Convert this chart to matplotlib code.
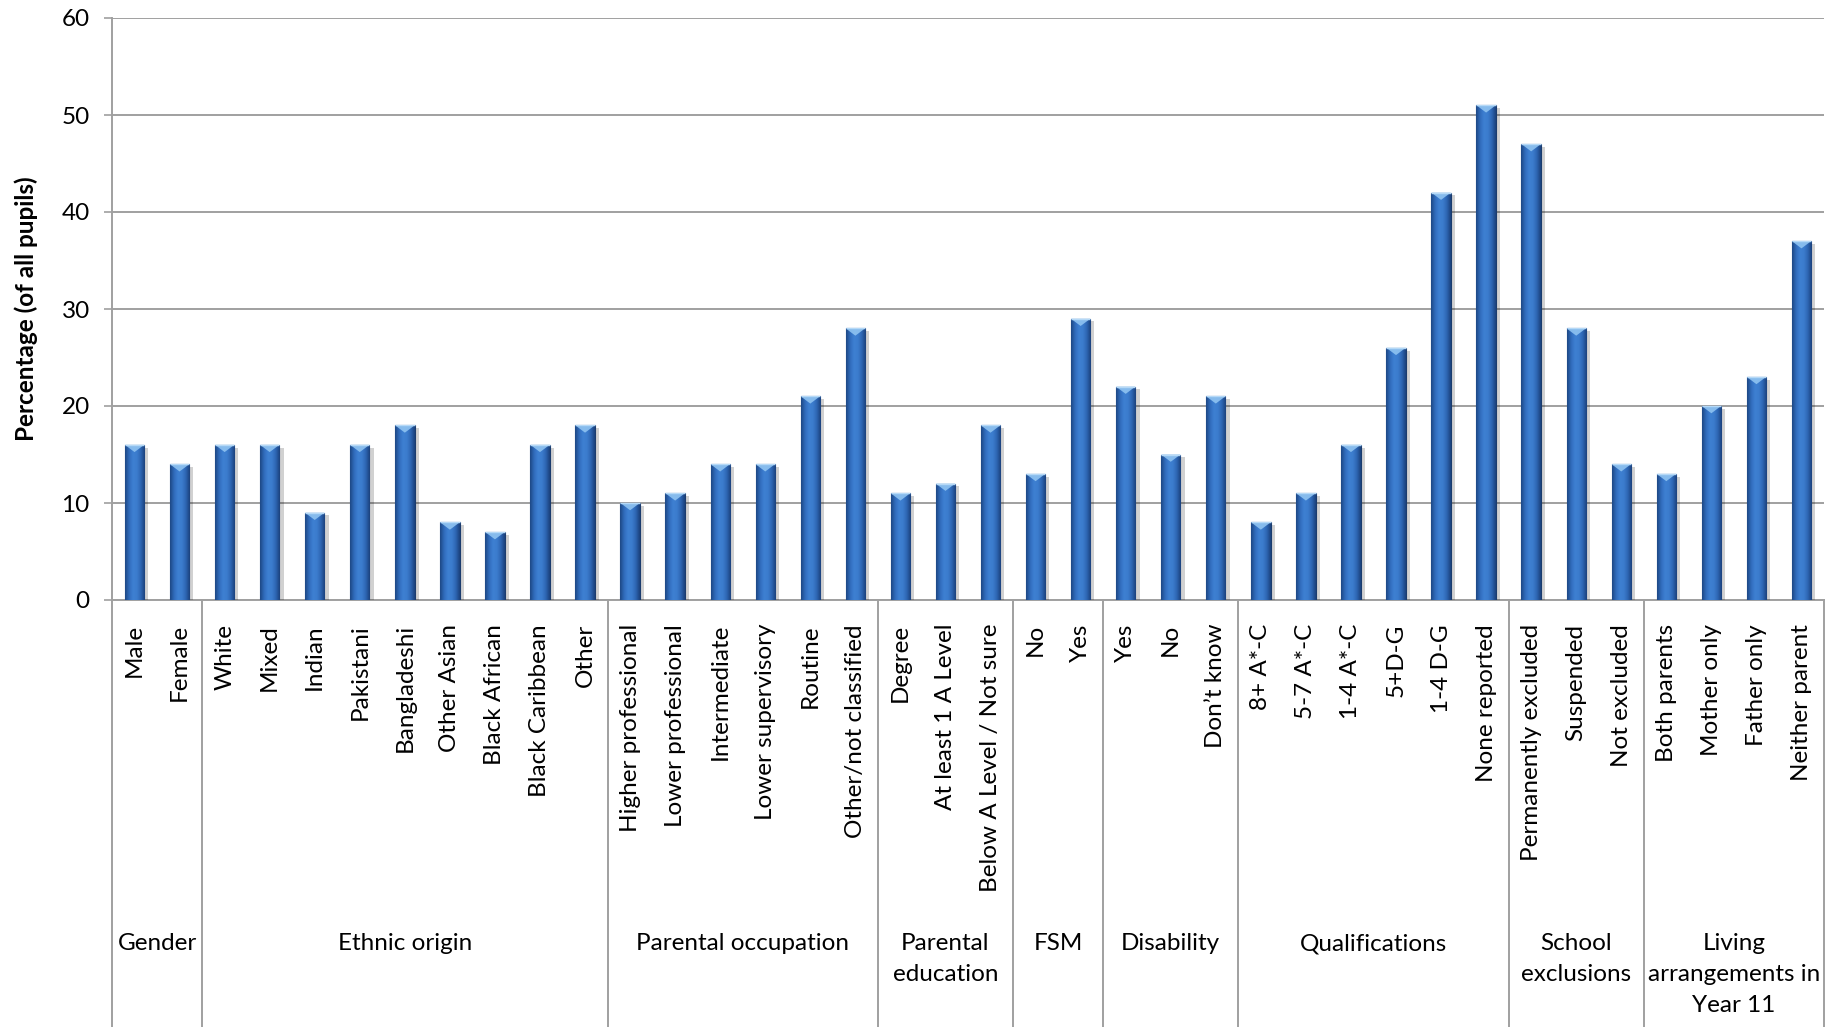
import numpy as np
import matplotlib
matplotlib.use("Agg")
import matplotlib.pyplot as plt
from matplotlib.colors import LinearSegmentedColormap
from matplotlib.patches import Polygon
from matplotlib import patheffects as pe
import matplotlib.transforms as mtransforms

plt.rcParams["font.family"] = ["Lato", "DejaVu Sans"]

# Category groups and the items within each
groups = ["Gender", "Ethnic origin", "Parental occupation", "Parental\neducation",
          "FSM", "Disability", "Qualifications", "School\nexclusions",
          "Living\narrangements in\nYear 11"]
group_sizes = [2, 9, 6, 3, 2, 3, 6, 3, 4]

categories = ["Male", "Female",
              "White", "Mixed", "Indian", "Pakistani", "Bangladeshi", "Other Asian",
              "Black African", "Black Caribbean", "Other",
              "Higher professional", "Lower professional", "Intermediate",
              "Lower supervisory", "Routine", "Other/not classified",
              "Degree", "At least 1 A Level", "Below A Level / Not sure",
              "No", "Yes",
              "Yes", "No", "Don\u2019t know",
              "8+ A*-C", "5-7 A*-C", "1-4 A*-C", "5+D-G", "1-4 D-G", "None reported",
              "Permanently excluded", "Suspended", "Not excluded",
              "Both parents", "Mother only", "Father only", "Neither parent"]

values = [16, 14,
          16, 16, 9, 16, 18, 8, 7, 16, 18,
          10, 11, 14, 14, 21, 28,
          11, 12, 18,
          13, 29,
          22, 15, 21,
          8, 11, 16, 26, 42, 51,
          47, 28, 14,
          13, 20, 23, 37]

yticks = [0, 10, 20, 30, 40, 50, 60]

W, H = 1839, 1027
fig = plt.figure(figsize=(W / 100, H / 100), dpi=100)
x0, x1 = 112, 1824
y0, y1 = 600, 18
ax = fig.add_axes([x0 / W, (H - y0) / H, (x1 - x0) / W, (y0 - y1) / H])

grid_c = "#a0a0a0"
fs = 17.5
n = len(values)
xs = np.arange(n)
bw = 0.43

bars = ax.bar(xs, values, width=bw, color="#2e66b3", edgecolor="#1b3c6e",
              linewidth=0.8, zorder=3)

# horizontal shading across each bar, dark at the sides and lighter in the middle
cmap = LinearSegmentedColormap.from_list(
    "bevel", ["#1d4784", "#306bbb", "#3e80d2", "#3c7ccd", "#2d66b3", "#1b417c"])
grad = np.linspace(0, 1, 64).reshape(1, -1)
for rect, v in zip(bars, values):
    rect.set_path_effects([pe.SimplePatchShadow(offset=(3, -2), shadow_rgbFace="#000000",
                                                alpha=0.18), pe.Normal()])
    xl = rect.get_x()
    im = ax.imshow(grad, cmap=cmap, extent=[xl, xl + bw, 0, v], aspect="auto",
                   zorder=3.5, interpolation="bicubic")
    im.set_clip_path(rect)
    # light chevron on the top face
    d = 0.75
    cap = Polygon([[xl, v], [xl + bw, v], [xl + bw / 2, v - d]], closed=True,
                  facecolor="#8fc3f1", edgecolor="none", alpha=0.9, zorder=4)
    ax.add_patch(cap)
    ax.plot([xl, xl + bw], [v, v], color="#b5d9f7", lw=1.0, zorder=4.2,
            solid_capstyle="butt")

ax.set_xlim(-0.5, n - 0.5)
ax.set_ylim(0, 60)
ax.set_yticks(yticks)
ax.yaxis.grid(True, color=grid_c, lw=1.4, zorder=0)
ax.set_axisbelow(True)
ax.tick_params(axis="y", length=6, width=1.2, color=grid_c, labelsize=fs, pad=10)
ax.set_xticks([])
for s in ["top", "right"]:
    ax.spines[s].set_visible(False)
ax.spines["left"].set_color(grid_c)
ax.spines["left"].set_linewidth(1.4)
ax.spines["bottom"].set_color(grid_c)
ax.spines["bottom"].set_linewidth(1.4)
ax.set_ylabel("Percentage (of all pupils)", fontsize=fs, fontweight="bold", va="center")
ax.yaxis.set_label_coords((26 - x0) / (x1 - x0), 0.5)

trans = mtransforms.blended_transform_factory(ax.transData, ax.transAxes)
bottom = -(H - y0) / (y0 - y1)

# item labels, rotated, hanging below the axis
for xi, lab in zip(xs, categories):
    ax.text(xi, -24 / (y0 - y1), lab, transform=trans, rotation=90, ha="center",
            va="top", fontsize=fs)

# group separators and group names
edges = np.concatenate([[0], np.cumsum(group_sizes)]) - 0.5
for e in edges:
    ax.plot([e, e], [0, bottom], transform=trans, color=grid_c, lw=1.4,
            clip_on=False, zorder=2)
for g, a, b in zip(groups, edges[:-1], edges[1:]):
    ax.text((a + b) / 2, -(933 - y0) / (y0 - y1), g, transform=trans, ha="center",
            va="top", fontsize=fs, linespacing=1.58)

fig.savefig("out.png", dpi=100)
